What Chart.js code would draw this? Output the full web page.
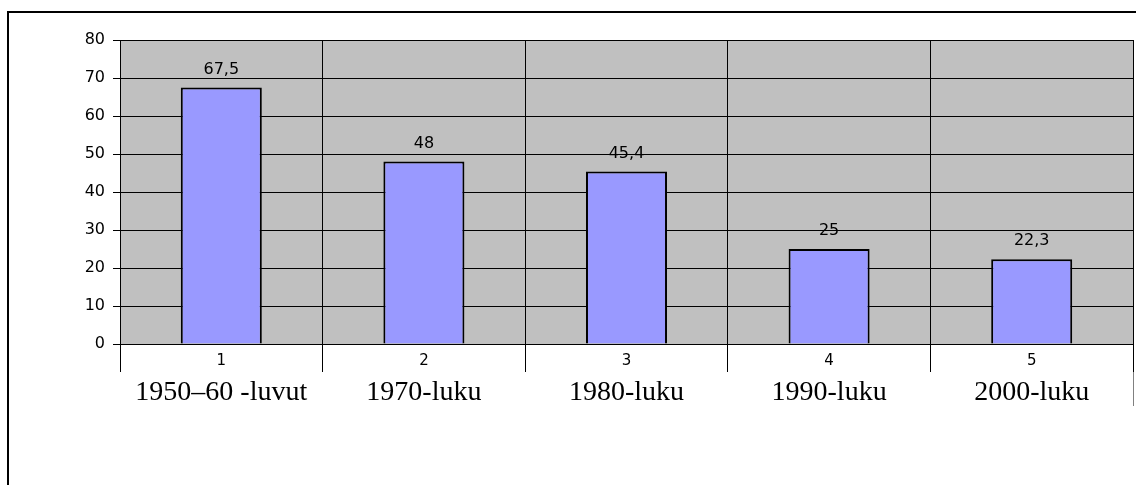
<!DOCTYPE html>
<html>
<head>
<meta charset="utf-8">
<script src="https://cdn.jsdelivr.net/npm/chart.js@4.4.0/dist/chart.umd.min.js"></script>
<style>
    body { margin: 0; background: #ffffff; overflow: hidden; }
    #wrap { position: relative; width: 1136px; height: 485px; }
    #frame { position: absolute; left: 7px; top: 11px; width: 1140px; height: 480px;
             border-left: 2px solid #000; border-top: 2px solid #000; }
    #chart { position: absolute; left: 0; top: 0; }
</style>
</head>
<body>
<div id="wrap">
    <div id="frame"></div>
    <canvas id="chart" width="1136" height="485"></canvas>
</div>
<script>
// data
const tickNumbers = ["1", "2", "3", "4", "5"];
const decades = ["1950\u201360 -luvut", "1970-luku", "1980-luku", "1990-luku", "2000-luku"];
const values = [67.5, 48, 45.4, 25, 22.3];
const yTicks = [0, 10, 20, 30, 40, 50, 60, 70, 80];

const smallFont = '"DejaVu Sans", Verdana, sans-serif';

// gray plot background
const plotBg = {
    id: 'plotBg',
    beforeDraw: function (chart) {
        let a = chart.chartArea;
        let ctx = chart.ctx;
        ctx.save();
        ctx.fillStyle = '#C0C0C0';
        ctx.fillRect(a.left, a.top, a.right - a.left, a.bottom - a.top);
        ctx.strokeStyle = '#808080';
        ctx.lineWidth = 1;
        ctx.beginPath();
        ctx.moveTo(a.right + 0.5, a.top);
        ctx.lineTo(a.right + 0.5, a.bottom + 62);
        ctx.stroke();
        ctx.restore();
    }
};

// value labels above bars
const valueLabels = {
    id: 'valueLabels',
    afterDatasetsDraw: function (chart) {
        let ctx = chart.ctx;
        let meta = chart.getDatasetMeta(0);
        ctx.save();
        ctx.font = '16px ' + smallFont;
        ctx.fillStyle = '#000';
        ctx.textAlign = 'center';
        ctx.textBaseline = 'middle';
        meta.data.forEach(function (bar, i) {
            let txt = String(values[i]).replace('.', ',');
            ctx.fillText(txt, bar.x, bar.y - 18);
        });
        ctx.restore();
    }
};

new Chart(document.getElementById('chart'), {
    type: 'bar',
    data: {
        labels: tickNumbers,
        datasets: [{
            data: values,
            backgroundColor: '#9999FF',
            borderColor: '#000000',
            borderWidth: 2,
            borderSkipped: 'start',
            barPercentage: 0.4,
            categoryPercentage: 1.0
        }]
    },
    options: {
        responsive: false,
        animation: false,
        layout: { padding: { left: 0, top: 40, right: 3, bottom: 0 } },
        plugins: {
            legend: { display: false },
            tooltip: { enabled: false }
        },
        scales: {
            x: {
                position: 'bottom',
                offset: true,
                grid: {
                    offset: true,
                    color: '#000000',
                    lineWidth: 1,
                    tickLength: 28
                },
                border: { color: '#000000' },
                ticks: {
                    color: '#000',
                    font: { family: smallFont, size: 15 },
                    padding: -20
                },
                afterFit: function (s) { s.height = 28; }
            },
            x2: {
                type: 'category',
                position: 'bottom',
                labels: decades,
                offset: true,
                grid: { display: false },
                border: { display: false },
                ticks: {
                    color: '#000',
                    font: { family: '"Liberation Serif", "Times New Roman", serif', size: 28 },
                    padding: -4
                },
                afterFit: function (s) { s.height = 113; }
            },
            y: {
                min: 0,
                max: 80,
                afterBuildTicks: function (s) {
                    s.ticks = yTicks.map(function (v) { return { value: v }; });
                },
                grid: {
                    color: '#000000',
                    lineWidth: 1,
                    tickLength: 7
                },
                border: { color: '#000000' },
                ticks: {
                    color: '#000',
                    font: { family: smallFont, size: 16 },
                    padding: 8
                },
                afterFit: function (s) { s.width = 120; }
            }
        }
    },
    plugins: [plotBg, valueLabels]
});
</script>
</body>
</html>
